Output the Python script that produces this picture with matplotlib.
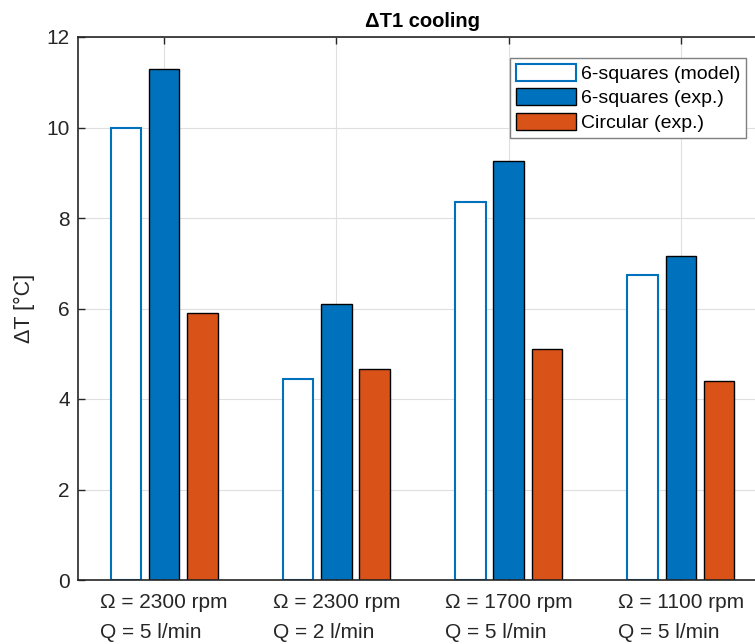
import matplotlib
matplotlib.use("Agg")
import matplotlib.pyplot as plt
import numpy as np

categories = ["\u03A9 = 2300 rpm\nQ = 5 l/min",
              "\u03A9 = 2300 rpm\nQ = 2 l/min",
              "\u03A9 = 1700 rpm\nQ = 5 l/min",
              "\u03A9 = 1100 rpm\nQ = 5 l/min"]
model_6sq = [10.0, 4.44, 8.36, 6.73]
exp_6sq = [11.29, 6.09, 9.25, 7.15]
exp_circ = [5.91, 4.66, 5.10, 4.40]
series_labels = ["6-squares (model)", "6-squares (exp.)", "Circular (exp.)"]
yticks = [0, 2, 4, 6, 8, 10, 12]

plt.rcParams['font.family'] = ['Liberation Sans', 'DejaVu Sans']

fig = plt.figure(figsize=(7.55, 6.44), dpi=100)
ax = fig.add_axes([78/755, 64/644, 689/755, 543/644])

x = np.arange(1, len(categories) + 1)
off = 0.2222
w = 0.178
blue = '#0072BD'
orange = '#D95319'

ax.set_axisbelow(True)
ax.grid(True, color='#DFDFDF', linewidth=0.8)

ax.bar(x - off, model_6sq, w, facecolor='white', edgecolor=blue, linewidth=1.5,
       label=series_labels[0], zorder=2)
ax.bar(x, exp_6sq, w, facecolor=blue, edgecolor='black', linewidth=1.0,
       label=series_labels[1], zorder=2)
ax.bar(x + off, exp_circ, w, facecolor=orange, edgecolor='black', linewidth=1.0,
       label=series_labels[2], zorder=2)

ax.set_xlim(0.5, 4.5)
ax.set_ylim(0, 12)
ax.set_xticks(x)
ax.set_xticklabels(categories)
for t in ax.get_xticklabels():
    t.set_multialignment('left')
    t.set_linespacing(1.75)
ax.set_yticks(yticks)
ax.tick_params(axis='both', direction='in', length=5, width=1.0, color='#262626',
               labelsize=15, labelcolor='#262626', top=True, right=True)
ax.tick_params(axis='x', pad=9)
ax.tick_params(axis='y', pad=6)
for t in ax.get_xticklabels():
    t.set_linespacing(1.75)
for s in ax.spines.values():
    s.set_color('#262626')
    s.set_linewidth(1.2)

ax.set_ylabel("\u0394T [\u00B0C]", fontsize=15.5, color='#262626', labelpad=8)
ax.set_title("\u0394T1 cooling", fontsize=14.5, fontweight='bold', pad=7)

leg = ax.legend(loc='upper left', fontsize=14, fancybox=False, edgecolor='#7F7F7F',
                framealpha=1, handlelength=3.1, handleheight=0.95, handletextpad=0.25,
                borderpad=0.3, labelspacing=0.28, borderaxespad=0)
leg.get_frame().set_linewidth(1.0)
leg.set_bbox_to_anchor((510/755, 1 - 58/644), transform=fig.transFigure)

fig.savefig("out.png", dpi=100)
